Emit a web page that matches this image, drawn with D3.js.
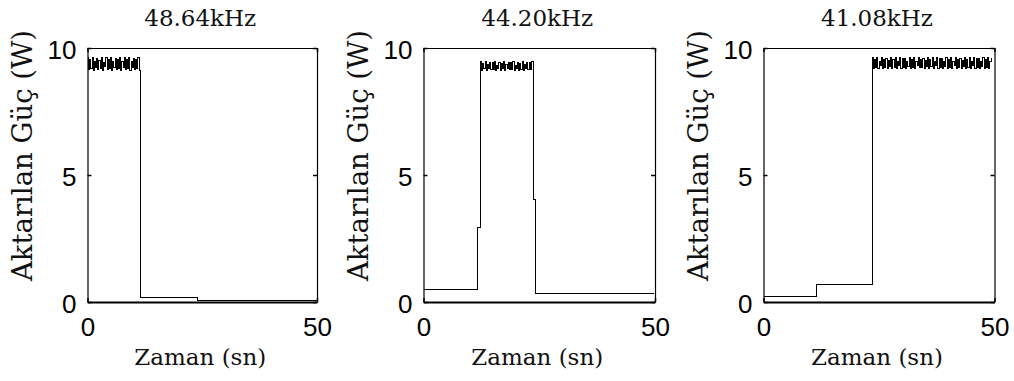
<!DOCTYPE html>
<html>
<head>
<meta charset="utf-8">
<script src="https://cdn.jsdelivr.net/npm/d3@7"></script>
<style>
  html, body { margin: 0; padding: 0; background: #fff; }
  svg { display: block; }
</style>
</head>
<body>
<svg id="chart" width="1014" height="381"></svg>
<script>
// Transferred power vs time at three drive frequencies.
const panelTitles = ["48.64kHz", "44.20kHz", "41.08kHz"];
const xTickValues = [0, 50];
const yTickValues = [0, 5, 10];
const xAxisTitle = "Zaman (sn)";
const yAxisTitle = "Aktarılan Güç (W)";
const rippleStep = 0.25; // seconds per ripple sample

// 48.64 kHz: rippling full power, then drops to near zero
const aBeforeTimes = [];
const aBeforeLevels = [];
const aRippleStart = 0;
const aRipple = [
  9.62, 9.14, 9.55, 9.20, 9.62, 9.13, 9.46, 9.24, 9.60, 9.15, 9.52, 9.18,
  9.62, 9.12, 9.44, 9.26, 9.61, 9.14, 9.56, 9.20, 9.62, 9.13, 9.47, 9.23,
  9.60, 9.15, 9.53, 9.18, 9.62, 9.12, 9.45, 9.25, 9.61, 9.14, 9.55, 9.19,
  9.62, 9.13, 9.48, 9.22, 9.60, 9.15, 9.54, 9.18, 9.62, 9.12
];
const aAfterTimes = [11.6, 23.9, 50];
const aAfterLevels = [0.17, 0.04, 0.04];

// 44.20 kHz: low, two-stage rise, rippling plateau, two-stage fall
const bBeforeTimes = [0, 11.75];
const bBeforeLevels = [0.49, 2.95];
const bRippleStart = 12.3;
const bRipple = [
  9.45, 9.13, 9.40, 9.18, 9.45, 9.12, 9.34, 9.20, 9.44, 9.14, 9.41, 9.16,
  9.45, 9.12, 9.33, 9.21, 9.44, 9.13, 9.40, 9.18, 9.45, 9.12, 9.35, 9.19,
  9.44, 9.14, 9.42, 9.16, 9.45, 9.12, 9.33, 9.21, 9.44, 9.13, 9.40, 9.17,
  9.45, 9.12, 9.36, 9.19, 9.44, 9.14, 9.41, 9.16, 9.45
];
const bAfterTimes = [23.7, 24.25, 49.8];
const bAfterLevels = [4.03, 0.33, 0.33];

// 41.08 kHz: two low steps, then rippling full power to the end
const cBeforeTimes = [0, 11.4];
const cBeforeLevels = [0.22, 0.68];
const cRippleStart = 23.5;
const cRipple = [
  9.62, 9.20, 9.55, 9.25, 9.61, 9.19, 9.47, 9.30, 9.62, 9.21, 9.56, 9.24,
  9.60, 9.19, 9.49, 9.28, 9.62, 9.20, 9.54, 9.25, 9.61, 9.19, 9.46, 9.31,
  9.62, 9.21, 9.57, 9.23, 9.60, 9.19, 9.48, 9.29, 9.62, 9.20, 9.55, 9.25,
  9.61, 9.19, 9.47, 9.30, 9.62, 9.22, 9.56, 9.24, 9.60, 9.19, 9.49, 9.28,
  9.62, 9.20, 9.53, 9.26, 9.61, 9.19, 9.46, 9.31, 9.62, 9.21, 9.57, 9.23,
  9.60, 9.19, 9.48, 9.29, 9.62, 9.20, 9.55, 9.25, 9.61, 9.19, 9.47, 9.30,
  9.62, 9.21, 9.56, 9.24, 9.60, 9.19, 9.49, 9.28, 9.62, 9.20, 9.54, 9.25,
  9.61, 9.19, 9.46, 9.31, 9.62, 9.21, 9.57, 9.23, 9.60, 9.19, 9.48, 9.29,
  9.62, 9.20, 9.55, 9.25, 9.61, 9.19, 9.47
];
const cAfterTimes = [49.4];
const cAfterLevels = [9.62];

// Plot-box geometry of each panel
const panelBoxes = [
  { left: 87.5, right: 317 },
  { left: 423.5, right: 655 },
  { left: 763.5, right: 994.5 }
];
const boxTop = 48, boxBottom = 302;
const serif = "'DejaVu Serif', serif";
const sans = "'Liberation Sans', Arial, sans-serif";

function buildSeries(bt, bl, rStart, ripple, at, al) {
  const pts = bt.map((t, i) => ({ t, v: bl[i] }));
  ripple.forEach((v, i) => pts.push({ t: rStart + i * rippleStep, v }));
  at.forEach((t, i) => pts.push({ t, v: al[i] }));
  return pts;
}

const seriesList = [
  buildSeries(aBeforeTimes, aBeforeLevels, aRippleStart, aRipple, aAfterTimes, aAfterLevels),
  buildSeries(bBeforeTimes, bBeforeLevels, bRippleStart, bRipple, bAfterTimes, bAfterLevels),
  buildSeries(cBeforeTimes, cBeforeLevels, cRippleStart, cRipple, cAfterTimes, cAfterLevels)
];

const svg = d3.select("#chart");
svg.append("rect").attr("width", 1014).attr("height", 381).attr("fill", "#fff");

panelBoxes.forEach((box, k) => {
  const x = d3.scaleLinear().domain([0, 50]).range([box.left, box.right]);
  const y = d3.scaleLinear().domain([0, 10]).range([boxBottom, boxTop]);
  const g = svg.append("g");
  const tickLen = 4;

  // data trace
  const line = d3.line()
    .x(d => x(d.t))
    .y(d => y(d.v))
    .curve(d3.curveStepAfter);
  g.append("path")
    .datum(seriesList[k])
    .attr("d", line)
    .attr("fill", "none")
    .attr("stroke", "#000")
    .attr("stroke-width", 1)
    .attr("shape-rendering", "crispEdges");

  // axes: inward ticks on all four sides, labels on left and bottom
  const left = d3.axisLeft(y).tickValues(yTickValues).tickSizeInner(-tickLen).tickSizeOuter(0).tickPadding(11);
  const right = d3.axisRight(y).tickValues(yTickValues).tickSizeInner(-tickLen).tickSizeOuter(0).tickFormat("");
  const bottom = d3.axisBottom(x).tickValues(xTickValues).tickSizeInner(-tickLen).tickSizeOuter(0).tickPadding(16);
  const top = d3.axisTop(x).tickValues(xTickValues).tickSizeInner(-tickLen).tickSizeOuter(0).tickFormat("");

  const gl = g.append("g").attr("transform", `translate(${box.left},0)`).call(left);
  const gr = g.append("g").attr("transform", `translate(${box.right},0)`).call(right);
  const gb = g.append("g").attr("transform", `translate(0,${boxBottom})`).call(bottom);
  const gt = g.append("g").attr("transform", `translate(0,${boxTop})`).call(top);

  [gl, gr, gb, gt].forEach(a => {
    a.selectAll(".domain").attr("stroke", "#000").attr("stroke-width", 1.2);
    a.selectAll(".tick line").attr("stroke", "#000").attr("stroke-width", 1.5);
  });
  gb.select(".domain").attr("stroke-width", 1.8);

  [gl, gb].forEach(a => a.selectAll(".tick text")
    .attr("font-size", 26)
    .style("font-family", sans)
    .attr("fill", "#000"));
  gl.selectAll(".tick text").attr("dy", "0.42em");
  gb.selectAll(".tick text").attr("dy", "0.71em");

  const cx = (box.left + box.right) / 2;
  svg.append("text")
    .attr("x", cx - 2)
    .attr("y", 26)
    .attr("text-anchor", "middle")
    .style("font-family", serif)
    .style("font-size", "23px")
    .attr("fill", "#111")
    .text(panelTitles[k]);

  svg.append("text")
    .attr("x", cx - 2)
    .attr("y", 365)
    .attr("text-anchor", "middle")
    .style("font-family", serif)
    .style("font-size", "23px")
    .attr("fill", "#111")
    .text(xAxisTitle);

  svg.append("text")
    .attr("transform", `translate(${box.left - 56},155.5) rotate(-90)`)
    .attr("text-anchor", "middle")
    .style("font-family", serif)
    .style("font-size", "27.5px")
    .attr("fill", "#111")
    .text(yAxisTitle);
});
</script>
</body>
</html>
